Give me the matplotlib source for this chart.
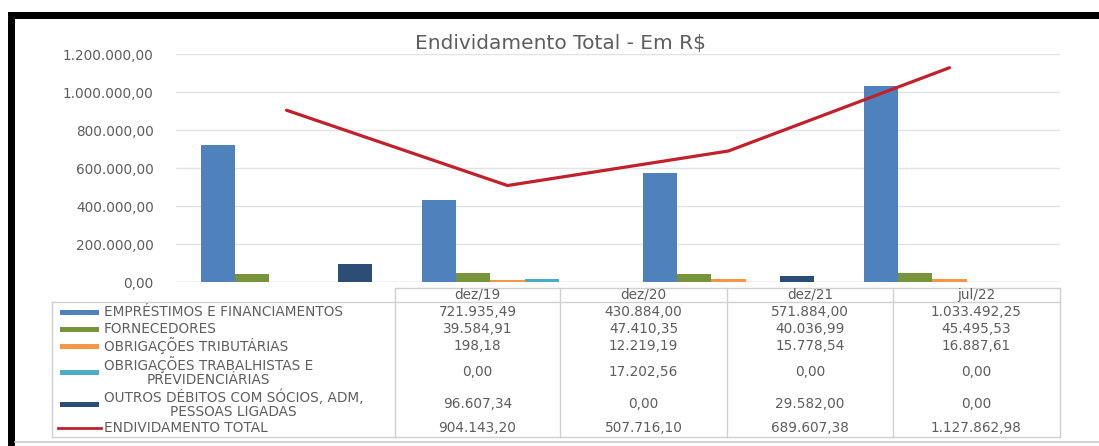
import matplotlib.pyplot as plt
from matplotlib.lines import Line2D
from matplotlib.patches import Rectangle
import numpy as np

plt.rcParams['font.family'] = ['DejaVu Sans']

# --- data -------------------------------------------------------------
periods = ['dez/19', 'dez/20', 'dez/21', 'jul/22']
emprestimos = [721935.49, 430884.00, 571884.00, 1033492.25]
fornecedores = [39584.91, 47410.35, 40036.99, 45495.53]
tributarias = [198.18, 12219.19, 15778.54, 16887.61]
trabalhistas = [0.00, 17202.56, 0.00, 0.00]
outros = [96607.34, 0.00, 29582.00, 0.00]
total = [904143.20, 507716.10, 689607.38, 1127862.98]

bar_series = [
    ('EMPRÉSTIMOS E FINANCIAMENTOS', emprestimos, '#4F81BD'),
    ('FORNECEDORES', fornecedores, '#77933C'),
    ('OBRIGAÇÕES TRIBUTÁRIAS', tributarias, '#F79646'),
    ('OBRIGAÇÕES TRABALHISTAS E\nPREVIDENCIÁRIAS', trabalhistas, '#4BACC6'),
    ('OUTROS DÉBITOS COM SÓCIOS, ADM,\nPESSOAS LIGADAS', outros, '#2C4D75'),
]
line_label = 'ENDIVIDAMENTO TOTAL'
line_color = '#C0212B'
yticks = [0, 200000, 400000, 600000, 800000, 1000000, 1200000]

TXT = '#5E5E5E'
GRID = '#E3E3E3'
FS = 9.8


def br(v):
    # brazilian number format: 1.234.567,89
    s = f'{v:,.2f}'
    return s.replace(',', 'X').replace('.', ',').replace('X', '.')


W, H = 1099, 446
fig = plt.figure(figsize=(W / 100, H / 100), dpi=100)

# --- chart area -------------------------------------------------------
x0, x1, ytop, ybot = 176, 1060, 54, 282
ax = fig.add_axes([x0 / W, 1 - ybot / H, (x1 - x0) / W, (ybot - ytop) / H])
x = np.arange(len(periods))
w = 0.154
for k, (name, vals, col) in enumerate(bar_series):
    ax.bar(x + (k - 2) * w, vals, width=w, color=col, zorder=2)
ax.plot(x, total, color=line_color, lw=2.3, zorder=3, solid_capstyle='round')
ax.set_xlim(-0.5, len(periods) - 0.5)
ax.set_ylim(0, 1200000)
ax.set_yticks(yticks)
ax.set_yticklabels([br(v) for v in yticks], color=TXT, fontsize=FS)
ax.tick_params(axis='y', length=0, pad=16)
ax.set_xticks([])
ax.grid(axis='y', color=GRID, lw=1, zorder=0)
for s in ax.spines.values():
    s.set_visible(False)
ax.axhline(0, color='#D9D9D9', lw=1, zorder=1)

# --- overlay in pixel coords for title, table and frame --------------
ov = fig.add_axes([0, 0, 1, 1], facecolor='none')
ov.set_xlim(0, W)
ov.set_ylim(H, 0)
ov.axis('off')

ov.text(560, 43, 'Endividamento Total - Em R$', ha='center', va='center',
        fontsize=14.5, color=TXT)

# table grid
cols = [395, 560, 727, 893, 1060]
t_top, t_head, t_bot = 288, 302, 437
lc = '#D0D0D0'
ov.add_line(Line2D([cols[0], cols[-1]], [t_top, t_top], color=lc, lw=1))
ov.add_line(Line2D([52, cols[-1]], [t_head, t_head], color=lc, lw=1))
ov.add_line(Line2D([52, cols[-1]], [t_bot, t_bot], color=lc, lw=1))
ov.add_line(Line2D([52, 52], [t_head, t_bot], color=lc, lw=1))
for cx in cols:
    ov.add_line(Line2D([cx, cx], [t_top, t_bot], color=lc, lw=1))

for i, p in enumerate(periods):
    ov.text((cols[i] + cols[i + 1]) / 2, 295, p, ha='center', va='center',
            fontsize=FS, color=TXT)

row_y = [312, 329, 346, 372, 404, 428]
rows = bar_series + [(line_label, total, line_color)]
for r, (name, vals, col) in enumerate(rows):
    yy = row_y[r]
    if r < len(bar_series):
        ov.add_patch(Rectangle((60, yy - 2.5), 39, 5, color=col, lw=0))
    else:
        ov.add_line(Line2D([58, 101], [yy, yy], color=col, lw=2))
    ov.text(104, yy, name, ha='left', va='center', multialignment='center',
            fontsize=FS, color=TXT, linespacing=1.0)
    for i, v in enumerate(vals):
        ov.text((cols[i] + cols[i + 1]) / 2, yy, br(v), ha='center',
                va='center', fontsize=FS, color=TXT)

# outer frame
ov.add_patch(Rectangle((8, 12), W - 8, 6.5, color='black', lw=0))
ov.add_patch(Rectangle((8, 12), 7, H - 12, color='black', lw=0))
ov.add_line(Line2D([15, W], [442, 442], color='#C8C8C8', lw=1.2))

fig.savefig('out.png', dpi=100)
